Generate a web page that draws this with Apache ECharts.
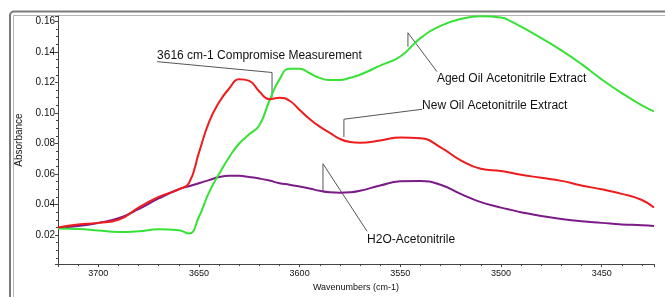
<!DOCTYPE html>
<html>
<head>
<meta charset="utf-8">
<script src="https://cdn.jsdelivr.net/npm/echarts@6/dist/echarts.min.js"></script>
<style>
  html, body { margin: 0; padding: 0; background: #fff; }
  #main { width: 665px; height: 297px; }
</style>
</head>
<body>
<div id="main"></div>
<script>
  // wavenumbers (cm-1), shared by all three spectra
  var wavenumbers = [3720, 3710, 3700, 3690, 3680, 3670, 3660, 3655, 3650, 3645,
    3640, 3635, 3630, 3625, 3620, 3615, 3610, 3605, 3600, 3595,
    3590, 3585, 3580, 3575, 3570, 3560, 3550, 3540, 3530, 3520,
    3510, 3500, 3495, 3490, 3480, 3470, 3460, 3450, 3440, 3430, 3424];

  var newOil = [0.025, 0.027, 0.028, 0.030, 0.038, 0.045, 0.050, 0.054, 0.074, 0.094,
    0.107, 0.116, 0.122, 0.121, 0.114, 0.109, 0.110, 0.108, 0.102, 0.096,
    0.091, 0.087, 0.083, 0.081, 0.0805, 0.082, 0.084, 0.0835, 0.0775, 0.069,
    0.0634, 0.062, 0.0608, 0.0595, 0.0575, 0.0555, 0.0525, 0.050, 0.047, 0.043, 0.038];

  var agedOil = [0.0243, 0.024, 0.023, 0.022, 0.0225, 0.0238, 0.0232, 0.021, 0.032, 0.048,
    0.060, 0.071, 0.080, 0.086, 0.092, 0.108, 0.122, 0.129, 0.129, 0.126,
    0.123, 0.1215, 0.1215, 0.123, 0.125, 0.131, 0.137, 0.149, 0.157, 0.1615,
    0.1633, 0.1625, 0.160, 0.1565, 0.149, 0.141, 0.132, 0.122, 0.113, 0.105, 0.101];

  var h2o = [0.025, 0.026, 0.028, 0.031, 0.037, 0.044, 0.050, 0.052, 0.054, 0.056,
    0.058, 0.0588, 0.0588, 0.058, 0.057, 0.0557, 0.054, 0.053, 0.0518, 0.0505,
    0.049, 0.048, 0.0477, 0.048, 0.049, 0.0525, 0.0552, 0.0555, 0.053, 0.047,
    0.0416, 0.038, 0.0365, 0.035, 0.0325, 0.0305, 0.029, 0.028, 0.027, 0.0265, 0.026];

  // annotations: text, text anchor (wn, abs), leader line points (wn, abs)
  var noteTexts = ['3616 cm-1 Compromise Measurement', 'Aged Oil Acetonitrile Extract',
    'New Oil Acetonitrile Extract', 'H2O-Acetonitrile'];
  var noteAnchors = [[3670.8, 0.1375], [3531.8, 0.1226], [3539.2, 0.1045], [3566.5, 0.0173]];
  var noteLines = [
    [[3670.8, 0.1336], [3613.7, 0.1265], [3613.7, 0.1102]],
    [[3546.2, 0.1434], [3546.2, 0.1525], [3531.8, 0.1271]],
    [[3539.2, 0.1024], [3578.0, 0.0959], [3578.0, 0.0842]],
    [[3588.4, 0.0485], [3588.4, 0.0667], [3566.5, 0.0225]]
  ];

  function pairs(ys) {
    return wavenumbers.map(function (w, i) { return [w, ys[i]]; });
  }

  var font = 'Liberation Sans, Arial, sans-serif';
  var myChart = echarts.init(document.getElementById('main'));

  myChart.setOption({
    animation: false,
    backgroundColor: '#fff',
    grid: { left: 58, right: 11, top: 16, bottom: 31 },
    xAxis: {
      type: 'value',
      inverse: true,
      min: 3424,
      max: 3720,
      name: 'Wavenumbers (cm-1)',
      nameLocation: 'middle',
      nameGap: 16,
      nameTextStyle: { fontFamily: font, fontSize: 9, color: '#111' },
      axisLine: { onZero: false, lineStyle: { color: '#444', width: 1 } },
      axisTick: { show: true, length: 3, lineStyle: { color: '#444' } },
      minorTick: { show: true, splitNumber: 5, length: 2, lineStyle: { color: '#444' } },
      axisLabel: { fontFamily: font, fontSize: 9, color: '#111', margin: 5,
        showMinLabel: false, showMaxLabel: false,
        formatter: function (v) { return String(v); } },
      splitLine: { show: false }
    },
    yAxis: {
      type: 'value',
      min: 0.001,
      max: 0.1635,
      splitNumber: 8,
      name: 'Absorbance',
      nameLocation: 'middle',
      nameGap: 33,
      nameTextStyle: { fontFamily: font, fontSize: 10, color: '#111' },
      axisLine: { show: true, lineStyle: { color: '#444', width: 1 } },
      axisTick: { show: true, length: 3, lineStyle: { color: '#444' } },
      minorTick: { show: true, splitNumber: 4, length: 2, lineStyle: { color: '#444' } },
      axisLabel: {
        fontFamily: font, fontSize: 10, color: '#111', margin: 3,
        showMinLabel: false, showMaxLabel: false,
        formatter: function (v) { return v.toFixed(2); }
      },
      splitLine: { show: false }
    },
    series: [
      { name: 'H2O-Acetonitrile', type: 'line', data: pairs(h2o), smooth: 0.5,
        showSymbol: false, lineStyle: { color: '#7b1b87', width: 2 } },
      { name: 'Aged Oil Acetonitrile Extract', type: 'line', data: pairs(agedOil), smooth: 0.5,
        showSymbol: false, lineStyle: { color: '#36e236', width: 2 } },
      { name: 'New Oil Acetonitrile Extract', type: 'line', data: pairs(newOil), smooth: 0.5,
        showSymbol: false, lineStyle: { color: '#ee1c1c', width: 2 } }
    ]
  });

  function px(p) { return myChart.convertToPixel({ gridIndex: 0 }, p); }

  var graphics = [
    // window frame around the plot
    { type: 'rect', shape: { x: 10, y: 11.5, width: 700, height: 400, r: 4 },
      style: { fill: 'none', stroke: '#7a7a7a', lineWidth: 2 }, silent: true },
    { type: 'rect', shape: { x: 13.5, y: 15.5, width: 700, height: 400 },
      style: { fill: 'none', stroke: '#b4b4b4', lineWidth: 1 }, silent: true }
  ];
  noteTexts.forEach(function (t, i) {
    graphics.push({
      type: 'polyline',
      shape: { points: noteLines[i].map(px) },
      style: { fill: 'none', stroke: '#555', lineWidth: 1 },
      silent: true
    });
    var a = px(noteAnchors[i]);
    graphics.push({
      type: 'text', x: a[0], y: a[1],
      style: { text: t, fill: '#111', font: '12px ' + font,
        textAlign: 'left', textVerticalAlign: 'middle' },
      silent: true
    });
  });
  myChart.setOption({ graphic: graphics });
</script>
</body>
</html>
